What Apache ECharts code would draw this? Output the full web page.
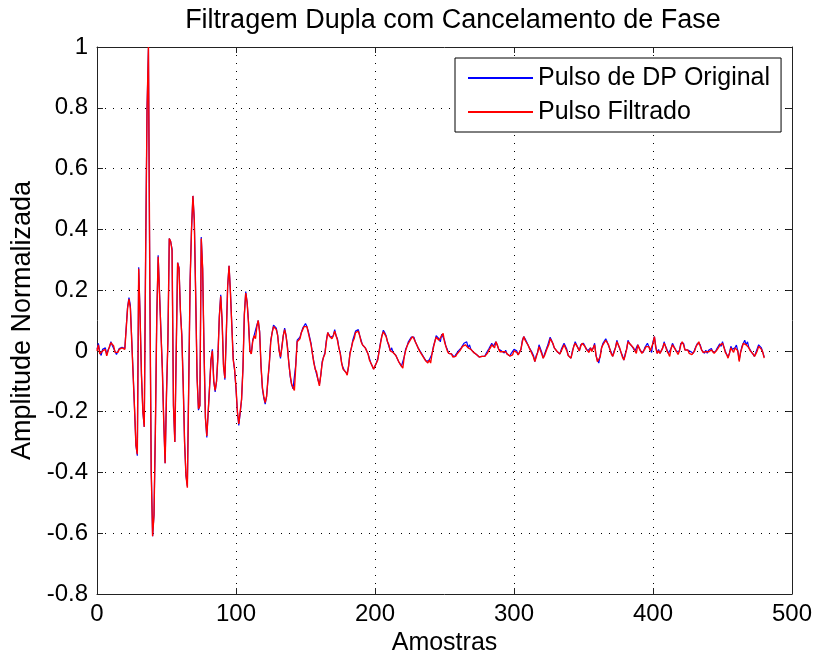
<!DOCTYPE html>
<html>
<head>
<meta charset="utf-8">
<script src="https://cdn.jsdelivr.net/npm/echarts@6/dist/echarts.min.js"></script>
<style>html,body{margin:0;padding:0;background:#fff}#chart{width:816px;height:662px}</style>
</head>
<body>
<div id="chart"></div>
<script>
const titleText = 'Filtragem Dupla com Cancelamento de Fase';
const xLabel = 'Amostras';
const yLabel = 'Amplitude Normalizada';
const seriesNames = ['Pulso de DP Original', 'Pulso Filtrado'];
const xTicks = [0, 100, 200, 300, 400, 500];
const yTicks = [-0.8, -0.6, -0.4, -0.2, 0, 0.2, 0.4, 0.6, 0.8, 1];

const original = [
0.005,0.025,-0.005,-0.015,0.005,0.0,0.01,-0.012,0.004,0.012,0.03,0.018,0.02,-0.002,-0.012,-0.002,0.008,0.002,0.012,0.008,
0.008,0.012,0.145,0.175,0.15,0.035,-0.075,-0.19,-0.31,-0.345,0.275,0.115,-0.08,-0.2,-0.25,0.325,0.8,0.995,0.215,-0.39,
-0.61,-0.54,-0.26,0.115,0.315,0.31,0.065,-0.055,-0.23,-0.37,-0.14,0.035,0.37,0.36,0.335,-0.18,-0.30,0.005,0.29,0.275,
0.135,0.055,-0.105,-0.30,-0.41,-0.445,-0.45,0.235,0.40,0.51,0.43,0.185,-0.085,-0.195,-0.18,0.375,0.27,0.005,-0.22,-0.285,
-0.2,-0.115,-0.03,0.005,-0.1,-0.135,-0.1,-0.015,0.115,0.185,0.1,-0.045,-0.095,0.055,0.215,0.28,0.195,0.085,-0.025,-0.065,
-0.125,-0.2,-0.245,-0.205,-0.16,-0.055,0.12,0.195,0.16,0.095,0.005,-0.01,0.035,0.05,0.045,0.085,0.1,0.065,-0.05,-0.125,
-0.155,-0.175,-0.15,-0.095,-0.04,0.035,0.06,0.085,0.08,0.075,0.05,0.005,-0.025,0.015,0.05,0.075,0.05,0.015,-0.04,-0.085,
-0.11,-0.125,-0.13,-0.045,0.035,0.03,0.045,0.06,0.075,0.08,0.09,0.08,0.065,0.06,0.025,-0.01,-0.035,-0.06,-0.065,-0.095,
-0.11,-0.08,-0.035,-0.02,-0.005,0.035,0.06,0.055,0.045,0.045,0.05,0.07,0.05,0.04,0.01,-0.005,-0.04,-0.055,-0.065,-0.07,
-0.075,-0.05,-0.005,0.01,0.035,0.04,0.065,0.065,0.07,0.05,0.035,0.02,0.02,0.01,0.005,-0.01,-0.025,-0.04,-0.045,-0.06,
-0.055,-0.04,-0.025,0.0,0.03,0.05,0.068,0.06,0.05,0.03,0.025,0.0,0.01,-0.005,-0.005,-0.015,-0.02,-0.035,-0.035,-0.05,
-0.05,-0.02,0.005,0.015,0.03,0.03,0.045,0.047,0.045,0.03,0.025,0.01,0.005,-0.005,-0.01,-0.02,-0.025,-0.035,-0.035,-0.03,
-0.035,-0.01,0.015,0.03,0.05,0.045,0.04,0.03,0.055,0.058,0.035,0.015,0.005,-0.008,-0.003,-0.01,-0.015,-0.02,-0.013,-0.01,
0.0,0.0,0.01,0.015,0.025,0.02,0.03,0.01,0.02,0.005,0.005,-0.005,-0.005,-0.012,-0.013,-0.02,-0.02,-0.018,-0.02,-0.018,
-0.008,-0.007,0.008,0.01,0.025,0.015,0.015,0.03,0.025,0.005,0.002,0.0,0.002,-0.007,0.002,-0.01,-0.008,-0.017,-0.008,-0.013,
0.005,0.003,0.0,-0.013,-0.013,0.005,0.035,0.047,0.04,0.03,0.025,0.01,0.005,-0.005,-0.015,-0.035,-0.015,-0.005,0.02,0.02,
-0.005,-0.024,-0.01,-0.01,0.015,0.02,0.045,0.035,0.03,0.01,0.01,-0.002,-0.003,-0.01,0.005,0.01,0.025,0.015,0.005,-0.015,
-0.015,-0.024,0.0,0.015,0.03,0.02,0.015,0.0,0.02,0.025,0.025,0.015,0.01,0.0,0.0,0.01,0.003,0.01,0.025,-0.015,
-0.03,-0.04,-0.015,0.01,0.025,0.025,0.04,0.03,0.025,0.005,-0.005,-0.018,0.0,0.01,0.035,0.02,0.015,-0.005,-0.015,-0.03,
-0.01,0.005,0.035,0.025,0.025,0.014,0.015,0.0,-0.003,0.02,0.015,0.0,-0.003,-0.005,0.01,0.014,0.025,0.014,0.005,-0.005,
0.03,0.047,0.015,-0.008,0.005,-0.008,0.0,0.01,0.03,0.015,0.005,-0.008,-0.013,0.008,0.025,0.015,0.01,-0.003,-0.007,0.0,
0.025,0.03,0.025,0.003,0.003,0.003,-0.003,-0.002,-0.007,-0.008,0.005,0.015,0.025,0.03,0.02,0.003,0.0,-0.008,0.002,-0.008,
0.002,0.003,0.008,-0.003,-0.003,-0.002,0.008,0.01,0.023,0.015,0.03,0.013,0.0,-0.012,-0.019,-0.008,0.015,0.005,0.0,0.01,
0.019,0.0,-0.03,-0.005,0.015,0.025,0.035,0.02,0.03,0.01,0.005,-0.005,-0.005,-0.018,-0.005,0.0,0.02,0.02,0.01,-0.005,-0.02
];

const filtered = [
0.0,0.02,-0.01,-0.01,0.0,0.005,0.005,-0.016,0.0,0.015,0.027,0.022,0.016,-0.005,-0.01,-0.005,0.005,0.005,0.01,0.005,
0.005,0.01,0.14,0.17,0.14,0.03,-0.08,-0.19,-0.31,-0.34,0.27,0.11,-0.08,-0.2,-0.25,0.32,0.79,1.0,0.22,-0.39,
-0.61,-0.54,-0.26,0.11,0.31,0.31,0.06,-0.06,-0.23,-0.37,-0.14,0.03,0.37,0.36,0.33,-0.18,-0.30,0.0,0.29,0.27,
0.13,0.05,-0.11,-0.30,-0.41,-0.45,-0.45,0.23,0.40,0.51,0.43,0.18,-0.09,-0.19,-0.18,0.37,0.27,0.0,-0.22,-0.28,
-0.20,-0.12,-0.03,0.0,-0.10,-0.13,-0.10,-0.02,0.11,0.18,0.10,-0.05,-0.09,0.05,0.21,0.28,0.19,0.08,-0.03,-0.06,
-0.12,-0.2,-0.24,-0.20,-0.16,-0.06,0.12,0.19,0.16,0.09,0.0,-0.01,0.03,0.05,0.04,0.08,0.10,0.06,-0.05,-0.12,
-0.15,-0.17,-0.15,-0.09,-0.04,0.03,0.06,0.08,0.08,0.07,0.05,0.0,-0.02,0.01,0.05,0.07,0.05,0.01,-0.04,-0.08,
-0.11,-0.12,-0.13,-0.05,0.03,0.03,0.04,0.06,0.07,0.08,0.085,0.08,0.06,0.06,0.02,-0.01,-0.04,-0.06,-0.07,-0.095,
-0.115,-0.08,-0.04,-0.02,-0.01,0.03,0.06,0.05,0.045,0.04,0.05,0.065,0.05,0.035,0.01,-0.01,-0.04,-0.06,-0.065,-0.07,
-0.08,-0.05,-0.01,0.01,0.03,0.04,0.06,0.065,0.065,0.05,0.03,0.02,0.015,0.01,0.0,-0.01,-0.03,-0.04,-0.05,-0.06,
-0.06,-0.04,-0.03,0.0,0.025,0.05,0.063,0.06,0.047,0.03,0.02,0.0,0.005,-0.005,-0.01,-0.015,-0.025,-0.035,-0.04,-0.05,
-0.057,-0.02,0.0,0.015,0.025,0.03,0.04,0.047,0.04,0.03,0.02,0.01,0.0,-0.005,-0.015,-0.02,-0.03,-0.035,-0.04,-0.03,
-0.04,-0.01,0.01,0.03,0.045,0.045,0.035,0.03,0.05,0.058,0.03,0.015,0.0,-0.008,-0.008,-0.01,-0.02,-0.02,-0.018,-0.01,
-0.005,0.0,0.005,0.015,0.02,0.02,0.025,0.01,0.015,0.005,0.0,-0.005,-0.01,-0.012,-0.018,-0.02,-0.024,-0.018,-0.024,-0.018,
-0.012,-0.007,0.003,0.01,0.02,0.015,0.01,0.03,0.02,0.005,-0.003,0.0,-0.003,-0.007,-0.003,-0.01,-0.013,-0.017,-0.013,-0.013,
0.0,0.003,-0.005,-0.013,-0.018,0.005,0.03,0.047,0.035,0.03,0.02,0.01,0.0,-0.005,-0.02,-0.035,-0.02,-0.005,0.014,0.02,
-0.01,-0.024,-0.015,-0.01,0.01,0.02,0.04,0.035,0.025,0.01,0.005,-0.002,-0.008,-0.01,0.0,0.01,0.02,0.015,0.0,-0.015,
-0.02,-0.024,-0.005,0.015,0.025,0.02,0.01,0.0,0.015,0.025,0.02,0.015,0.005,0.0,-0.005,0.01,-0.002,0.01,0.02,-0.015,
-0.035,-0.04,-0.02,0.01,0.02,0.025,0.035,0.03,0.02,0.005,-0.01,-0.018,-0.005,0.01,0.03,0.02,0.01,-0.005,-0.02,-0.03,
-0.015,0.005,0.03,0.025,0.02,0.014,0.01,0.0,-0.008,0.02,0.01,0.0,-0.008,-0.005,0.005,0.014,0.02,0.014,0.0,-0.005,
0.025,0.047,0.01,-0.008,0.0,-0.008,-0.005,0.01,0.025,0.015,0.0,-0.008,-0.018,0.008,0.02,0.015,0.005,-0.003,-0.012,0.0,
0.02,0.03,0.02,0.003,-0.002,0.003,-0.008,-0.002,-0.012,-0.008,0.0,0.015,0.02,0.03,0.015,0.003,-0.005,-0.008,-0.003,-0.008,
-0.003,0.003,0.003,-0.003,-0.008,-0.002,0.003,0.01,0.018,0.015,0.025,0.013,-0.005,-0.012,-0.024,-0.008,0.01,0.005,-0.005,0.01,
0.014,0.0,-0.035,-0.005,0.01,0.025,0.03,0.02,0.025,0.01,0.0,-0.005,-0.01,-0.018,-0.01,0.0,0.015,0.02,0.005,-0.005,-0.024
];

const FONT = 'Liberation Sans, Arial, Helvetica, sans-serif';
const AX = '#222';
const chart = echarts.init(document.getElementById('chart'), null, {renderer: 'canvas'});
const gridLine = {show: true, lineStyle: {color: '#000', width: 1, type: [1, 7]}};
const xMin = xTicks[0], xMax = xTicks[xTicks.length - 1], xInt = xTicks[1] - xTicks[0];
const yMin = yTicks[0], yMax = yTicks[yTicks.length - 1], yInt = 0.2;

chart.setOption({
  animation: false,
  backgroundColor: '#fff',
  title: {
    text: titleText, left: 448, top: 2, textAlign: 'center',
    textStyle: {fontFamily: FONT, fontSize: 27, fontWeight: 'normal', color: '#000'}
  },
  legend: {
    orient: 'vertical', left: 455, top: 58,
    data: seriesNames, icon: 'rect', itemWidth: 65, itemHeight: 2, itemGap: 6,
    padding: [6, 11, 6, 13],
    backgroundColor: '#fff', borderColor: '#000', borderWidth: 1, borderRadius: 0,
    textStyle: {fontFamily: FONT, fontSize: 25, color: '#000', lineHeight: 28}
  },
  grid: {left: 97, right: 24, top: 47, bottom: 68, containLabel: false},
  xAxis: [{
    type: 'value', min: xMin, max: xMax, interval: xInt,
    name: xLabel, nameLocation: 'middle', nameGap: 37,
    nameTextStyle: {fontFamily: FONT, fontSize: 25, color: '#000'},
    axisLine: {show: true, onZero: false, lineStyle: {color: AX, width: 1}},
    axisTick: {show: true, inside: true, length: 6, lineStyle: {color: AX}},
    axisLabel: {fontFamily: FONT, fontSize: 24, color: '#000', margin: 8},
    splitLine: gridLine
  }, {
    type: 'value', position: 'top', min: xMin, max: xMax, interval: xInt,
    axisLine: {show: true, onZero: false, lineStyle: {color: AX, width: 1}},
    axisTick: {show: true, inside: true, length: 6, lineStyle: {color: AX}},
    axisLabel: {show: false}, splitLine: {show: false}
  }],
  yAxis: [{
    type: 'value', min: yMin, max: yMax, interval: yInt,
    name: yLabel, nameLocation: 'middle', nameGap: 59, nameRotate: 90,
    nameTextStyle: {fontFamily: FONT, fontSize: 27, color: '#000'},
    axisLine: {show: true, onZero: false, lineStyle: {color: AX, width: 1}},
    axisTick: {show: true, inside: true, length: 6, lineStyle: {color: AX}},
    axisLabel: {fontFamily: FONT, fontSize: 24, color: '#000', margin: 9,
      formatter: v => String(Math.round(v * 10) / 10)},
    splitLine: gridLine
  }, {
    type: 'value', position: 'right', min: yMin, max: yMax, interval: yInt,
    axisLine: {show: true, onZero: false, lineStyle: {color: AX, width: 1}},
    axisTick: {show: true, inside: true, length: 6, lineStyle: {color: AX}},
    axisLabel: {show: false}, splitLine: {show: false}
  }],
  series: [{
    name: seriesNames[0], type: 'line', showSymbol: false, symbol: 'none',
    data: original.map((v, i) => [i, v]),
    lineStyle: {color: '#0000ff', width: 1.2}, itemStyle: {color: '#0000ff'}
  }, {
    name: seriesNames[1], type: 'line', showSymbol: false, symbol: 'none',
    data: filtered.map((v, i) => [i, v]),
    lineStyle: {color: '#ff0000', width: 1.4}, itemStyle: {color: '#ff0000'}
  }]
});
</script>
</body>
</html>
